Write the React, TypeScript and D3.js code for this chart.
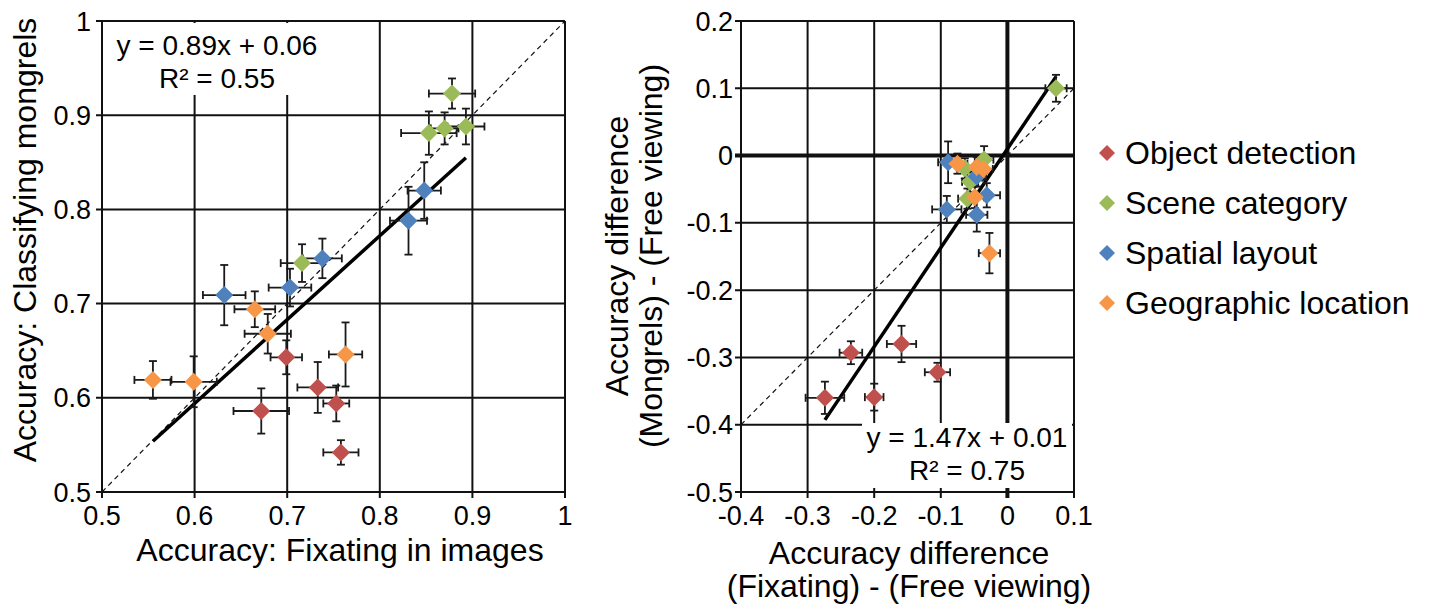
import React from "react";
import * as d3 from "d3";

// legend / series
const categories = ["Object detection", "Scene category", "Spatial layout", "Geographic location"];
const colors = ["#C0504D", "#9BBB59", "#4F81BD", "#F79646"];

// left panel: [fixating, mongrels, xErr, yErr]
const leftObject = [
  [0.699, 0.643, 0.017, 0.018],
  [0.733, 0.611, 0.022, 0.027],
  [0.753, 0.594, 0.014, 0.019],
  [0.672, 0.586, 0.030, 0.024],
  [0.758, 0.542, 0.019, 0.013],
];
const leftScene = [
  [0.878, 0.923, 0.025, 0.016],
  [0.853, 0.881, 0.030, 0.023],
  [0.870, 0.886, 0.015, 0.017],
  [0.893, 0.888, 0.020, 0.019],
  [0.716, 0.743, 0.023, 0.020],
];
const leftSpatial = [
  [0.848, 0.820, 0.018, 0.030],
  [0.831, 0.788, 0.020, 0.036],
  [0.738, 0.748, 0.021, 0.021],
  [0.703, 0.717, 0.023, 0.020],
  [0.632, 0.709, 0.023, 0.032],
];
const leftGeo = [
  [0.665, 0.694, 0.022, 0.019],
  [0.679, 0.668, 0.025, 0.021],
  [0.763, 0.646, 0.018, 0.034],
  [0.555, 0.619, 0.020, 0.020],
  [0.599, 0.617, 0.025, 0.027],
];

// right panel: [fixating - free, mongrels - free, xErr, yErr]
const rightObject = [
  [-0.274, -0.360, 0.029, 0.024],
  [-0.235, -0.293, 0.017, 0.017],
  [-0.200, -0.359, 0.014, 0.020],
  [-0.159, -0.280, 0.022, 0.027],
  [-0.105, -0.322, 0.019, 0.014],
];
const rightScene = [
  [0.073, 0.100, 0.016, 0.020],
  [-0.064, -0.019, 0.012, 0.015],
  [-0.035, -0.006, 0.014, 0.020],
  [-0.056, -0.039, 0.012, 0.015],
  [-0.060, -0.064, 0.014, 0.015],
];
const rightSpatial = [
  [-0.089, -0.010, 0.015, 0.031],
  [-0.046, -0.031, 0.014, 0.015],
  [-0.031, -0.059, 0.020, 0.018],
  [-0.091, -0.080, 0.022, 0.020],
  [-0.046, -0.088, 0.016, 0.025],
];
const rightGeo = [
  [-0.075, -0.012, 0.015, 0.015],
  [-0.046, -0.017, 0.014, 0.015],
  [-0.036, -0.020, 0.014, 0.016],
  [-0.049, -0.062, 0.014, 0.016],
  [-0.027, -0.145, 0.016, 0.030],
];

const leftTicks = [0.5, 0.6, 0.7, 0.8, 0.9, 1];
const rightXTicks = [-0.4, -0.3, -0.2, -0.1, 0, 0.1];
const rightYTicks = [0.2, 0.1, 0, -0.1, -0.2, -0.3, -0.4, -0.5];

const leftFit = { slope: 0.89, intercept: 0.06, eq: "y = 0.89x + 0.06", r2: "R² = 0.55" };
const rightFit = { slope: 1.47, intercept: 0.01, eq: "y = 1.47x + 0.01", r2: "R² = 0.75" };

const FONT = "'Liberation Sans', Arial, sans-serif";
const fmt = (v: number) => String(Number(v.toFixed(1)));

type Pt = number[];

function Points({ series, x, y }: { series: Pt[][]; x: any; y: any }) {
  const cap = 4;
  const r = 9;
  return (
    <g>
      {series.map((pts, si) =>
        pts.map((p, i) => {
          const cx = x(p[0]);
          const cy = y(p[1]);
          const x0 = x(p[0] - p[2]);
          const x1 = x(p[0] + p[2]);
          const y0 = y(p[1] - p[3]);
          const y1 = y(p[1] + p[3]);
          return (
            <g key={si + "-" + i} stroke="#1a1a1a" strokeWidth={1.8} fill="none">
              <line x1={x0} x2={x1} y1={cy} y2={cy} />
              <line x1={x0} x2={x0} y1={cy - cap} y2={cy + cap} />
              <line x1={x1} x2={x1} y1={cy - cap} y2={cy + cap} />
              <line x1={cx} x2={cx} y1={y0} y2={y1} />
              <line x1={cx - cap} x2={cx + cap} y1={y0} y2={y0} />
              <line x1={cx - cap} x2={cx + cap} y1={y1} y2={y1} />
            </g>
          );
        })
      )}
      {series.map((pts, si) =>
        pts.map((p, i) => {
          const cx = x(p[0]);
          const cy = y(p[1]);
          return (
            <path
              key={"m" + si + "-" + i}
              d={`M${cx},${cy - r}L${cx + r},${cy}L${cx},${cy + r}L${cx - r},${cy}Z`}
              fill={colors[si]}
            />
          );
        })
      )}
    </g>
  );
}

export default function App() {
  // left panel scales
  const lx = d3.scaleLinear().domain([0.5, 1]).range([102, 565]);
  const ly = d3.scaleLinear().domain([0.5, 1]).range([492, 21]);
  // right panel scales
  const rx = d3.scaleLinear().domain([-0.4, 0.1]).range([741, 1074]);
  const ry = d3.scaleLinear().domain([-0.5, 0.2]).range([492, 21]);

  const leftSeries = [leftObject, leftScene, leftSpatial, leftGeo];
  const rightSeries = [rightObject, rightScene, rightSpatial, rightGeo];

  const allLeftX = leftSeries.flat().map((p) => p[0]);
  const allRightX = rightSeries.flat().map((p) => p[0]);
  const lFitX = d3.extent(allLeftX) as [number, number];
  const rFitX = d3.extent(allRightX) as [number, number];
  const fitLine = d3.line<number>();

  const gridStroke = "#111";

  return (
    <div style={{ position: "absolute", left: 0, top: 0 }}>
      <svg width={1434} height={608} style={{ display: "block", background: "#fff" }} fontFamily={FONT}>
        {/* ---------- left panel ---------- */}
        <g>
          {leftTicks.map((t) => (
            <g key={"lg" + t} stroke={gridStroke} strokeWidth={2}>
              <line x1={lx(t)} x2={lx(t)} y1={ly(1)} y2={ly(0.5) + 6} />
              <line x1={lx(0.5) - 6} x2={lx(1)} y1={ly(t)} y2={ly(t)} />
            </g>
          ))}
          <line x1={lx(0.5)} y1={ly(0.5)} x2={lx(1)} y2={ly(1)} stroke="#111" strokeWidth={1.2} strokeDasharray="5,4" />
          <path
            d={fitLine(lFitX.map((v) => [lx(v), ly(leftFit.slope * v + leftFit.intercept)]) as any) || ""}
            stroke="#000"
            strokeWidth={3.5}
            fill="none"
          />
          <Points series={leftSeries} x={lx} y={ly} />
          <rect x={104} y={23} width={221} height={72} fill="#fff" />
          <text x={217} y={55} fontSize={28} textAnchor="middle">{leftFit.eq}</text>
          <text x={217} y={88} fontSize={28} textAnchor="middle">{leftFit.r2}</text>
          {leftTicks.map((t) => (
            <text key={"lxt" + t} x={lx(t)} y={525} fontSize={27} textAnchor="middle">{fmt(t)}</text>
          ))}
          {leftTicks.map((t) => (
            <text key={"lyt" + t} x={91} y={ly(t) + 9.5} fontSize={27} textAnchor="end">{fmt(t)}</text>
          ))}
          <text x={340} y={561} fontSize={32} textAnchor="middle">Accuracy: Fixating in images</text>
          <text transform="translate(36,240) rotate(-90)" fontSize={32} textAnchor="middle">Accuracy: Classifying mongrels</text>
        </g>

        {/* ---------- right panel ---------- */}
        <g>
          {rightXTicks.map((t) => (
            <line key={"rgx" + t} x1={rx(t)} x2={rx(t)} y1={ry(0.2)} y2={ry(-0.5) + 6}
              stroke={gridStroke} strokeWidth={t === 0 ? 4 : 2} />
          ))}
          {rightYTicks.map((t) => (
            <line key={"rgy" + t} x1={rx(-0.4) - 6} x2={rx(0.1)} y1={ry(t)} y2={ry(t)}
              stroke={gridStroke} strokeWidth={t === 0 ? 4 : 2} />
          ))}
          <line x1={rx(-0.4)} y1={ry(-0.4)} x2={rx(0.1)} y2={ry(0.1)} stroke="#111" strokeWidth={1.2} strokeDasharray="5,4" />
          <path
            d={fitLine(rFitX.map((v) => [rx(v), ry(rightFit.slope * v + rightFit.intercept)]) as any) || ""}
            stroke="#000"
            strokeWidth={3.5}
            fill="none"
          />
          <Points series={rightSeries} x={rx} y={ry} />
          <rect x={862} y={423} width={210} height={65} fill="#fff" />
          <text x={967} y={447} fontSize={28} textAnchor="middle">{rightFit.eq}</text>
          <text x={967} y={480} fontSize={28} textAnchor="middle">{rightFit.r2}</text>
          {rightXTicks.map((t) => (
            <text key={"rxt" + t} x={rx(t)} y={525} fontSize={27} textAnchor="middle">{fmt(t)}</text>
          ))}
          {rightYTicks.map((t) => (
            <text key={"ryt" + t} x={733} y={ry(t) + 9.5} fontSize={27} textAnchor="end">{fmt(t)}</text>
          ))}
          <text x={909} y={564} fontSize={32} textAnchor="middle">Accuracy difference</text>
          <text x={909} y={597} fontSize={32} textAnchor="middle">(Fixating) - (Free viewing)</text>
          <text transform="translate(628,256) rotate(-90)" fontSize={32} textAnchor="middle">Accuracy difference</text>
          <text transform="translate(662,256) rotate(-90)" fontSize={32} textAnchor="middle">(Mongrels) - (Free viewing)</text>
        </g>

        {/* ---------- legend ---------- */}
        <g>
          {categories.map((c, i) => {
            const cy = 153 + i * 50;
            return (
              <g key={c}>
                <path d={`M1107,${cy - 8}L1115,${cy}L1107,${cy + 8}L1099,${cy}Z`} fill={colors[i]} />
                <text x={1125} y={cy + 11} fontSize={32}>{c}</text>
              </g>
            );
          })}
        </g>
      </svg>
    </div>
  );
}
